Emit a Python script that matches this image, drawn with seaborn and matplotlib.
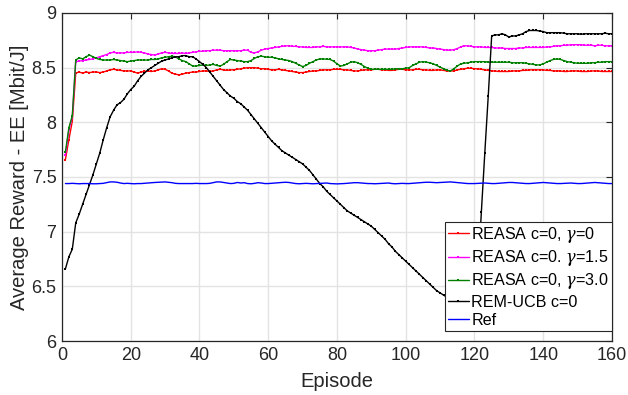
import numpy as np
import pandas as pd
import matplotlib
matplotlib.use("Agg")
import matplotlib.pyplot as plt
import seaborn as sns

episodes = np.arange(1, 161)

reasa_g0 = [
    7.66, 7.84, 8.01, 8.45, 8.46, 8.45, 8.46, 8.455, 8.46, 8.46,
    8.455, 8.46, 8.47, 8.48, 8.485, 8.48, 8.475, 8.47, 8.47, 8.47,
    8.46, 8.45, 8.46, 8.465, 8.47, 8.465, 8.47, 8.48, 8.49, 8.485,
    8.47, 8.45, 8.44, 8.435, 8.44, 8.45, 8.455, 8.46, 8.46, 8.465,
    8.47, 8.47, 8.465, 8.47, 8.48, 8.485, 8.48, 8.475, 8.48, 8.48,
    8.485, 8.49, 8.495, 8.50, 8.50, 8.50, 8.495, 8.49, 8.49, 8.485,
    8.48, 8.48, 8.485, 8.48, 8.475, 8.47, 8.465, 8.46, 8.455, 8.455,
    8.46, 8.465, 8.47, 8.47, 8.475, 8.48, 8.48, 8.48, 8.485, 8.485,
    8.485, 8.48, 8.48, 8.475, 8.47, 8.47, 8.475, 8.48, 8.48, 8.48,
    8.485, 8.485, 8.48, 8.48, 8.475, 8.475, 8.48, 8.485, 8.485, 8.48,
    8.48, 8.48, 8.485, 8.485, 8.48, 8.48, 8.475, 8.475, 8.48, 8.48,
    8.475, 8.47, 8.47, 8.47, 8.48, 8.485, 8.49, 8.495, 8.495, 8.49,
    8.49, 8.485, 8.48, 8.475, 8.47, 8.47, 8.465, 8.465, 8.465, 8.465,
    8.47, 8.47, 8.47, 8.475, 8.475, 8.48, 8.48, 8.48, 8.48, 8.48,
    8.475, 8.475, 8.47, 8.47, 8.47, 8.465, 8.465, 8.47, 8.47, 8.47,
    8.465, 8.465, 8.465, 8.47, 8.47, 8.47, 8.465, 8.465, 8.465, 8.465,
]

reasa_g15 = [
    7.70, 7.93, 8.05, 8.555, 8.56, 8.565, 8.57, 8.575, 8.58, 8.59,
    8.60, 8.61, 8.62, 8.635, 8.64, 8.635, 8.635, 8.635, 8.64, 8.64,
    8.64, 8.645, 8.64, 8.635, 8.625, 8.62, 8.615, 8.625, 8.635, 8.64,
    8.635, 8.63, 8.63, 8.63, 8.635, 8.63, 8.635, 8.64, 8.645, 8.65,
    8.65, 8.655, 8.655, 8.66, 8.66, 8.66, 8.655, 8.655, 8.655, 8.655,
    8.655, 8.655, 8.66, 8.66, 8.64, 8.635, 8.645, 8.66, 8.67, 8.675,
    8.68, 8.685, 8.69, 8.695, 8.70, 8.70, 8.695, 8.695, 8.69, 8.69,
    8.685, 8.685, 8.685, 8.69, 8.69, 8.695, 8.69, 8.69, 8.69, 8.69,
    8.69, 8.69, 8.69, 8.685, 8.68, 8.67, 8.665, 8.66, 8.655, 8.655,
    8.655, 8.66, 8.665, 8.67, 8.67, 8.67, 8.67, 8.675, 8.68, 8.685,
    8.69, 8.69, 8.69, 8.69, 8.69, 8.685, 8.68, 8.68, 8.675, 8.67,
    8.665, 8.66, 8.66, 8.665, 8.675, 8.69, 8.70, 8.70, 8.695, 8.69,
    8.69, 8.69, 8.685, 8.685, 8.685, 8.68, 8.68, 8.68, 8.675, 8.675,
    8.675, 8.675, 8.68, 8.68, 8.685, 8.685, 8.685, 8.685, 8.685, 8.685,
    8.69, 8.69, 8.695, 8.70, 8.70, 8.705, 8.705, 8.71, 8.71, 8.71,
    8.71, 8.705, 8.705, 8.705, 8.70, 8.705, 8.705, 8.70, 8.70, 8.70,
]

reasa_g30 = [
    7.73, 7.95, 8.06, 8.57, 8.59, 8.58, 8.60, 8.615, 8.60, 8.585,
    8.575, 8.57, 8.57, 8.57, 8.575, 8.57, 8.565, 8.56, 8.555, 8.56,
    8.565, 8.57, 8.57, 8.57, 8.57, 8.575, 8.575, 8.58, 8.59, 8.595,
    8.60, 8.605, 8.60, 8.58, 8.565, 8.555, 8.535, 8.515, 8.515, 8.52,
    8.525, 8.52, 8.525, 8.53, 8.52, 8.515, 8.53, 8.555, 8.575, 8.57,
    8.565, 8.56, 8.555, 8.555, 8.565, 8.585, 8.60, 8.605, 8.60, 8.595,
    8.595, 8.59, 8.58, 8.575, 8.57, 8.565, 8.555, 8.54, 8.525, 8.51,
    8.52, 8.54, 8.555, 8.57, 8.58, 8.58, 8.578, 8.575, 8.56, 8.535,
    8.515, 8.52, 8.535, 8.55, 8.555, 8.545, 8.53, 8.51, 8.495, 8.485,
    8.485, 8.485, 8.485, 8.485, 8.485, 8.485, 8.49, 8.49, 8.49, 8.495,
    8.50, 8.52, 8.535, 8.55, 8.555, 8.55, 8.545, 8.535, 8.52, 8.505,
    8.49, 8.475, 8.47, 8.49, 8.515, 8.535, 8.54, 8.545, 8.55, 8.555,
    8.555, 8.555, 8.555, 8.55, 8.55, 8.55, 8.55, 8.55, 8.55, 8.55,
    8.545, 8.545, 8.545, 8.545, 8.54, 8.535, 8.53, 8.525, 8.525, 8.535,
    8.55, 8.565, 8.575, 8.58, 8.575, 8.565, 8.555, 8.55, 8.545, 8.54,
    8.54, 8.54, 8.54, 8.545, 8.545, 8.55, 8.55, 8.555, 8.555, 8.555,
]

rem_ucb = [
    6.66, 6.77, 6.84, 7.08, 7.16, 7.25, 7.34, 7.43, 7.52, 7.62,
    7.72, 7.84, 7.95, 8.05, 8.11, 8.16, 8.18, 8.21, 8.26, 8.30,
    8.33, 8.38, 8.42, 8.45, 8.48, 8.50, 8.52, 8.54, 8.56, 8.57,
    8.58, 8.59, 8.60, 8.60, 8.61, 8.61, 8.60, 8.60, 8.58, 8.555,
    8.53, 8.50, 8.46, 8.42, 8.38, 8.34, 8.30, 8.27, 8.24, 8.22,
    8.19, 8.17, 8.14, 8.11, 8.07, 8.03, 7.99, 7.95, 7.91, 7.87,
    7.83, 7.80, 7.77, 7.74, 7.72, 7.70, 7.68, 7.66, 7.64, 7.62,
    7.59, 7.56, 7.52, 7.48, 7.44, 7.41, 7.37, 7.34, 7.31, 7.28,
    7.25, 7.22, 7.19, 7.17, 7.15, 7.13, 7.11, 7.09, 7.07, 7.05,
    7.02, 6.99, 6.96, 6.93, 6.89, 6.86, 6.82, 6.79, 6.76, 6.73,
    6.70, 6.67, 6.64, 6.61, 6.58, 6.55, 6.52, 6.49, 6.46, 6.44,
    6.42, 6.40, 6.37, 6.34, 6.31, 6.28, 6.25, 6.22, 6.18, 6.14,
    6.62, 7.18, 7.72, 8.24, 8.79, 8.80, 8.80, 8.81, 8.80, 8.78,
    8.79, 8.79, 8.80, 8.81, 8.83, 8.84, 8.84, 8.84, 8.835, 8.83,
    8.82, 8.82, 8.82, 8.82, 8.82, 8.815, 8.81, 8.81, 8.81, 8.81,
    8.805, 8.81, 8.81, 8.81, 8.81, 8.81, 8.81, 8.815, 8.81, 8.81,
]

ref = [
    7.44, 7.44, 7.442, 7.44, 7.438, 7.44, 7.44, 7.44, 7.438, 7.438,
    7.44, 7.442, 7.448, 7.455, 7.455, 7.452, 7.445, 7.44, 7.442, 7.44,
    7.438, 7.44, 7.44, 7.442, 7.445, 7.448, 7.45, 7.452, 7.455, 7.455,
    7.452, 7.448, 7.442, 7.44, 7.44, 7.44, 7.44, 7.44, 7.442, 7.44,
    7.44, 7.44, 7.442, 7.448, 7.455, 7.455, 7.45, 7.445, 7.44, 7.442,
    7.45, 7.445, 7.448, 7.44, 7.438, 7.442, 7.448, 7.445, 7.44, 7.44,
    7.442, 7.445, 7.448, 7.45, 7.452, 7.45, 7.445, 7.44, 7.438, 7.44,
    7.442, 7.44, 7.438, 7.44, 7.442, 7.445, 7.445, 7.44, 7.438, 7.437,
    7.438, 7.44, 7.442, 7.445, 7.448, 7.448, 7.445, 7.442, 7.44, 7.44,
    7.438, 7.44, 7.442, 7.445, 7.445, 7.44, 7.438, 7.44, 7.442, 7.44,
    7.44, 7.442, 7.445, 7.448, 7.45, 7.452, 7.452, 7.45, 7.448, 7.45,
    7.452, 7.455, 7.455, 7.452, 7.448, 7.445, 7.442, 7.44, 7.44, 7.44,
    7.442, 7.445, 7.445, 7.442, 7.44, 7.44, 7.442, 7.445, 7.448, 7.45,
    7.45, 7.448, 7.445, 7.442, 7.44, 7.44, 7.442, 7.445, 7.448, 7.45,
    7.448, 7.445, 7.442, 7.44, 7.44, 7.442, 7.445, 7.445, 7.442, 7.44,
    7.44, 7.442, 7.445, 7.448, 7.45, 7.448, 7.445, 7.442, 7.44, 7.44,
]

labels = [
    r"REASA c=0, $\gamma$=0",
    r"REASA c=0. $\gamma$=1.5",
    r"REASA c=0, $\gamma$=3.0",
    "REM-UCB c=0",
    "Ref",
]
colors = ["#ff0000", "#ff00ff", "#008000", "#000000", "#0000ff"]
series = [reasa_g0, reasa_g15, reasa_g30, rem_ucb, ref]
use_marker = [True, True, True, True, False]

sns.set_theme(style="whitegrid")
plt.rcParams["font.family"] = ["Liberation Sans", "DejaVu Sans"]
plt.rcParams["mathtext.fontset"] = "custom"
plt.rcParams["mathtext.it"] = "DejaVu Serif:italic"

fig = plt.figure(figsize=(6.28, 3.95), dpi=100)
ax = fig.add_axes([0.0987, 0.1367, 0.8758, 0.8304])

for vals, lab, col, mk in zip(series, labels, colors, use_marker):
    df = pd.DataFrame({"Episode": episodes, "Value": vals})
    sns.lineplot(
        data=df, x="Episode", y="Value", ax=ax, color=col, label=lab,
        linewidth=1.0, marker="s" if mk else None, markersize=1.8,
        markeredgewidth=0, estimator=None, sort=False,
    )

ax.set_xlim(0, 160)
ax.set_ylim(6, 9)
ax.set_xticks(np.arange(0, 161, 20))
ax.set_yticks([6, 6.5, 7, 7.5, 8, 8.5, 9])
ax.set_yticklabels(["6", "6.5", "7", "7.5", "8", "8.5", "9"])
ax.set_xlabel("Episode", fontsize=14.5, color="#262626", labelpad=6)
ax.set_ylabel("Average Reward - EE [Mbit/J]", fontsize=14.5, color="#262626", labelpad=2)
ax.tick_params(axis="both", labelsize=13, colors="#262626", direction="in",
               length=4, width=0.8, top=True, right=True, pad=4)
ax.grid(True, color="#e3e3e3", linewidth=1.0)
ax.set_facecolor("white")
for sp in ax.spines.values():
    sp.set_color("#262626")
    sp.set_linewidth(0.9)

leg = ax.legend(loc="lower right", bbox_to_anchor=(1.0, 0.03), borderaxespad=0,
                fontsize=11.6, frameon=True, fancybox=False, framealpha=1,
                handlelength=1.3, handletextpad=0.15, borderpad=0.2,
                labelspacing=0.2)
leg.get_frame().set_edgecolor("#262626")
leg.get_frame().set_linewidth(0.8)
for t in leg.get_texts():
    t.set_color("black")

fig.savefig("out.png", dpi=100)
